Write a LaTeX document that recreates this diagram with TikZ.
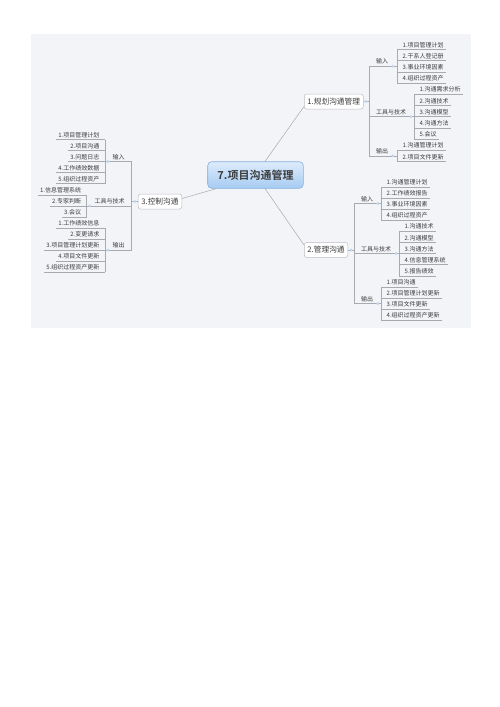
\documentclass[tikz,border=0pt]{standalone}
\usepackage{fontspec}
\setmainfont{Noto Sans CJK SC}[BoldFont={Noto Sans CJK SC Bold}]
\usetikzlibrary{calc}
\definecolor{bg}{HTML}{F3F4F8}
\definecolor{lnc}{HTML}{A9A9AE}
\definecolor{tx}{HTML}{3C3C3C}
\definecolor{mk}{HTML}{BED6F0}
\definecolor{rtop}{HTML}{DDECFB}
\definecolor{rbot}{HTML}{A6CBF2}
\definecolor{rbd}{HTML}{86B0DE}
\definecolor{bbd}{HTML}{BDBDC2}
\tikzset{
  conn/.style={draw=lnc, line width=0.5pt},
  leaf/.style={font=\fontsize{6}{7}\selectfont, text=tx, inner xsep=2pt, inner ysep=0pt},
  lone/.style={draw=bbd, fill=white, rounded corners=2.5pt, font=\fontsize{7.7}{9}\selectfont, text=tx, inner xsep=3.2pt, inner ysep=0pt, minimum height=15pt, line width=0.5pt},
  rootbox/.style={rounded corners=4pt, top color=rtop, bottom color=rbot, draw=rbd, line width=0.6pt, font=\fontsize{11}{13}\selectfont\bfseries, text=tx, minimum width=95.6pt, minimum height=26.6pt, inner sep=0pt},
}
\newcommand\leafR[4]{\node[leaf,anchor=base west] (#1) at ({#2+3.5},{#3-2.4}) {#4};
  \draw[conn] (#2,#3) -- (#1.east |- #2,#3);}
\newcommand\leafL[4]{\node[leaf,anchor=base east] (#1) at ({#2-3.5},{#3-2.4}) {#4};
  \draw[conn] (#2,#3) -- (#1.west |- #2,#3);}
\newcommand\midR[5]{\node[leaf,anchor=base west] (#1) at ({#2+5},{#3-2.4}) {#5};
  \draw[conn] (#2,#3) -- (#4,#3);
  \fill[mk] ($(#1.east |- #2,#3)+(2.5,0)$) circle (1.6pt);}
\newcommand\midL[5]{\node[leaf,anchor=base east] (#1) at ({#2-5},{#3-2.4}) {#5};
  \draw[conn] (#2,#3) -- (#4,#3);
  \fill[mk] ($(#1.west |- #2,#3)+(-2.5,0)$) circle (1.6pt);}
\begin{document}
\begin{tikzpicture}[x=1pt,y=-1pt]
\useasboundingbox (0,0) rectangle (500,707);
\fill[bg] (31,34) rectangle (471,328);

% root and level 1
\node[rootbox] (root) at (255.5,175) {7.项目沟通管理};
\node[lone,anchor=west] (p1) at (304,101.5) {1.规划沟通管理};
\node[lone,anchor=west] (p2) at (304,250) {2.管理沟通};
\node[lone,anchor=east] (p3) at (182,201.5) {3.控制沟通};
\draw[conn] ($(root.north)+(9.5,0)$) -- ($(p1.west)+(0,5)$);
\draw[conn] ($(root.south)+(9.5,0)$) -- ($(p2.west)+(0,-5)$);
\draw[conn] ($(root.south west)+(9,0)$) -- ($(p3.east)+(0,-3)$);

% ---------- group 1 ----------
\draw[conn] (p1.east) -- (369,101.5);
\fill[mk] (366,101.5) circle (1.6pt);
\draw[conn] (369,66.3) -- (369,155.9);
\midR{a1}{369}{66.3}{397}{输入}
\midR{a2}{369}{116.7}{414}{工具与技术}
\midR{a3}{369}{155.9}{397}{输出}
\draw[conn] (397,49.5) -- (397,83.1);
\leafR{a11}{397}{49.5}{1.项目管理计划}
\leafR{a12}{397}{60.7}{2.干系人登记册}
\leafR{a13}{397}{71.9}{3.事业环境因素}
\leafR{a14}{397}{83.1}{4.组织过程资产}
\draw[conn] (414,94.3) -- (414,139.1);
\leafR{a21}{414}{94.3}{1.沟通需求分析}
\leafR{a22}{414}{105.5}{2.沟通技术}
\leafR{a23}{414}{116.7}{3.沟通模型}
\leafR{a24}{414}{127.9}{4.沟通方法}
\leafR{a25}{414}{139.1}{5.会议}
\draw[conn] (397,150.3) -- (397,161.5);
\leafR{a31}{397}{150.3}{1.沟通管理计划}
\leafR{a32}{397}{161.5}{2.项目文件更新}

% ---------- group 2 ----------
\draw[conn] (p2.east) -- (354,250);
\fill[mk] (351,250) circle (1.6pt);
\draw[conn] (354,203.5) -- (354,303.6);
\midR{b1}{354}{203.5}{381}{输入}
\midR{b2}{354}{253.5}{399}{工具与技术}
\midR{b3}{354}{303.6}{381}{输出}
\draw[conn] (381,186.8) -- (381,220.2);
\leafR{b11}{381}{186.8}{1.沟通管理计划}
\leafR{b12}{381}{197.9}{2.工作绩效报告}
\leafR{b13}{381}{209.0}{3.事业环境因素}
\leafR{b14}{381}{220.2}{4.组织过程资产}
\draw[conn] (399,231.3) -- (399,275.8);
\leafR{b21}{399}{231.3}{1.沟通技术}
\leafR{b22}{399}{242.4}{2.沟通模型}
\leafR{b23}{399}{253.5}{3.沟通方法}
\leafR{b24}{399}{264.6}{4.信息管理系统}
\leafR{b25}{399}{275.8}{5.报告绩效}
\draw[conn] (381,286.9) -- (381,320.2);
\leafR{b31}{381}{286.9}{1.项目沟通}
\leafR{b32}{381}{298.0}{2.项目管理计划更新}
\leafR{b33}{381}{309.1}{3.项目文件更新}
\leafR{b34}{381}{320.2}{4.组织过程资产更新}

% ---------- group 3 ----------
\draw[conn] (p3.west) -- (131.7,201.5);
\fill[mk] (135,201.5) circle (1.6pt);
\draw[conn] (131.7,161.6) -- (131.7,250.1);
\midL{c1}{131.7}{161.6}{105}{输入}
\midL{c2}{131.7}{205.9}{86.7}{工具与技术}
\midL{c3}{131.7}{250.1}{105}{输出}
\draw[conn] (105,139.5) -- (105,183.7);
\leafL{c11}{105}{139.5}{1.项目管理计划}
\leafL{c12}{105}{150.6}{2.项目沟通}
\leafL{c13}{105}{161.6}{3.问题日志}
\leafL{c14}{105}{172.7}{4.工作绩效数据}
\leafL{c15}{105}{183.7}{5.组织过程资产}
\draw[conn] (86.7,194.8) -- (86.7,216.9);
\leafL{c21}{86.7}{194.8}{1.信息管理系统}
\leafL{c22}{86.7}{205.9}{2.专家判断}
\leafL{c23}{86.7}{216.9}{3.会议}
\draw[conn] (105,228.0) -- (105,272.2);
\leafL{c31}{105}{228.0}{1.工作绩效信息}
\leafL{c32}{105}{239.0}{2.变更请求}
\leafL{c33}{105}{250.1}{3.项目管理计划更新}
\leafL{c34}{105}{261.2}{4.项目文件更新}
\leafL{c35}{105}{272.2}{5.组织过程资产更新}
\end{tikzpicture}
\end{document}
